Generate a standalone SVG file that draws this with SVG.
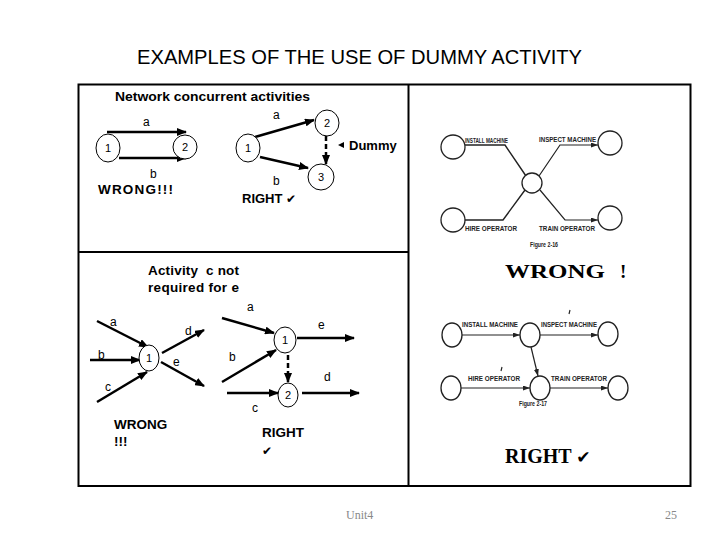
<svg xmlns="http://www.w3.org/2000/svg" width="720" height="540" viewBox="0 0 720 540">
<style>
.t{font-family:"Liberation Sans",Arial,sans-serif;fill:#000}
.b{font-weight:bold}
.lbl{font-family:"Liberation Sans",Arial,sans-serif;font-size:12px;fill:#000}
.num{font-family:"Liberation Sans",Arial,sans-serif;font-size:11px;fill:#000;text-anchor:middle}
.nd{fill:#fff;stroke:#000;stroke-width:1}
.ar{stroke:#000;stroke-width:2.5;fill:none;marker-end:url(#ah)}
.dm{stroke:#000;stroke-width:2.5;fill:none;stroke-dasharray:5,3;marker-end:url(#ah)}
.sc{stroke:#222;stroke-width:1.4;fill:none}
.scn{fill:#fff;stroke:#222;stroke-width:1.3}
.sa{stroke:#222;stroke-width:1.2;fill:none;marker-end:url(#sah)}
.st{font-family:"Liberation Sans Narrow","Liberation Sans",Arial,sans-serif;font-size:7px;font-weight:bold;fill:#222}
.sv{font-family:"Liberation Serif","Times New Roman",serif;font-weight:bold;fill:#000}
.ft{font-family:"Liberation Serif","Times New Roman",serif;font-size:12px;fill:#888}
</style>
<defs>
<marker id="ah" markerWidth="10" markerHeight="8" refX="9" refY="4" orient="auto" markerUnits="userSpaceOnUse">
<path d="M0,0 L10,4 L0,8 Z" fill="#000"/>
</marker>
<marker id="sah" markerWidth="7" markerHeight="5" refX="7" refY="2.5" orient="auto" markerUnits="userSpaceOnUse">
<path d="M0,0 L7,2.5 L0,5 Z" fill="#222"/>
</marker>
</defs>
<rect width="720" height="540" fill="#fff"/>
<text class="t" x="137" y="64" font-size="20" textLength="445" lengthAdjust="spacingAndGlyphs">EXAMPLES OF THE USE OF DUMMY ACTIVITY</text>
<g id="frame" fill="none" stroke="#000" stroke-width="2">
<rect x="78.5" y="84.5" width="612" height="401.5"/>
<line x1="408.5" y1="84.5" x2="408.5" y2="486"/>
<line x1="78.5" y1="252" x2="408.5" y2="252"/>
</g>
<g id="connectors">
<line class="ar" x1="107" y1="132" x2="186" y2="132"/>
<line class="ar" x1="119" y1="158" x2="186" y2="158"/>
<line class="ar" x1="255" y1="137" x2="314" y2="120"/>
<line class="ar" x1="260" y1="157" x2="308" y2="168"/>
<line class="dm" x1="326" y1="136" x2="326" y2="164"/>
<line class="ar" x1="97" y1="321" x2="148" y2="347"/>
<line class="ar" x1="90" y1="360" x2="140" y2="360"/>
<line class="ar" x1="97" y1="402" x2="147" y2="372"/>
<line class="ar" x1="162" y1="353" x2="204" y2="330"/>
<line class="ar" x1="161" y1="362" x2="204" y2="386"/>
<line class="ar" x1="222" y1="318" x2="274" y2="333"/>
<line class="ar" x1="222" y1="382" x2="276" y2="350"/>
<line class="ar" x1="297" y1="338" x2="354" y2="338"/>
<line class="dm" x1="288" y1="355" x2="288" y2="382"/>
<line class="ar" x1="227" y1="393" x2="278" y2="393"/>
<line class="ar" x1="302" y1="393" x2="359" y2="393"/>
<polyline class="sc" points="463,145 505,145 526,176"/>
<polyline class="sa" points="539,176 560,145 598,145"/>
<polyline class="sc" points="463,220 503,220 525,190"/>
<polyline class="sa" points="540,190 565,220 598,220"/>
<line class="sa" x1="462" y1="335" x2="520" y2="335"/>
<line class="sa" x1="540" y1="335" x2="598" y2="335"/>
<line class="sa" x1="531" y1="347" x2="538" y2="376"/>
<line class="sa" x1="461" y1="388" x2="530" y2="388"/>
<line class="sa" x1="550" y1="388" x2="608" y2="388"/>
</g>
<g id="wrong1-node1"><ellipse class="nd" cx="108" cy="148" rx="12" ry="14"/><text class="num" x="108" y="152">1</text></g>
<g id="wrong1-node2"><ellipse class="nd" cx="185" cy="147" rx="12" ry="12"/><text class="num" x="185" y="151">2</text></g>
<g id="right1-node1"><ellipse class="nd" cx="248" cy="148" rx="12" ry="14"/><text class="num" x="248" y="152">1</text></g>
<g id="right1-node2"><ellipse class="nd" cx="327" cy="123" rx="12" ry="13"/><text class="num" x="327" y="127">2</text></g>
<g id="right1-node3"><ellipse class="nd" cx="321" cy="177" rx="13" ry="13"/><text class="num" x="321" y="181">3</text></g>
<g id="wrong2-node1"><ellipse class="nd" cx="149" cy="358" rx="10" ry="13"/><text class="num" x="149" y="362">1</text></g>
<g id="right2-node1"><ellipse class="nd" cx="285" cy="340" rx="11" ry="13"/><text class="num" x="285" y="344">1</text></g>
<g id="right2-node2"><ellipse class="nd" cx="288" cy="395" rx="10" ry="12"/><text class="num" x="288" y="399">2</text></g>
<g id="fig16-nodes">
<circle class="scn" cx="453" cy="147" r="12"/>
<circle class="scn" cx="610" cy="143" r="12"/>
<circle class="scn" cx="532" cy="183" r="10"/>
<circle class="scn" cx="453" cy="220" r="12"/>
<circle class="scn" cx="610" cy="218" r="12"/>
</g>
<g id="fig17-nodes">
<ellipse class="scn" cx="452" cy="335" rx="10" ry="12"/>
<ellipse class="scn" cx="530" cy="335" rx="10" ry="12"/>
<ellipse class="scn" cx="608" cy="334" rx="10" ry="12"/>
<ellipse class="scn" cx="451" cy="388" rx="10" ry="12"/>
<ellipse class="scn" cx="540" cy="388" rx="10" ry="12"/>
<ellipse class="scn" cx="618" cy="388" rx="10" ry="12"/>
<line x1="570" y1="310" x2="569" y2="314" stroke="#222" stroke-width="1.2"/>
<line x1="502" y1="367" x2="501" y2="371" stroke="#222" stroke-width="1.2"/>
</g>
<g id="labels">
<text class="t b" x="115" y="101" font-size="13.5" textLength="195" lengthAdjust="spacingAndGlyphs">Network concurrent activities</text>
<text class="lbl" x="143" y="126">a</text>
<text class="lbl" x="150" y="178">b</text>
<text class="t b" x="98" y="194" font-size="13.5" textLength="75">WRONG!!!</text>
<text class="lbl" x="273" y="119">a</text>
<text class="lbl" x="273" y="185">b</text>
<path d="M338,145 L344,142 L344,148 Z" fill="#000"/>
<text class="t b" x="349" y="150" font-size="13">Dummy</text>
<text class="t b" x="242" y="203" font-size="13">RIGHT <tspan font-family="DejaVu Sans,sans-serif" font-size="12">✔</tspan></text>
<text class="t b" x="148" y="275" font-size="13.5" xml:space="preserve" textLength="91">Activity  c not</text>
<text class="t b" x="148" y="292" font-size="13.5" textLength="91">required for e</text>
<text class="lbl" x="110" y="326">a</text>
<text class="lbl" x="98" y="359">b</text>
<text class="lbl" x="105" y="391">c</text>
<text class="lbl" x="185" y="335">d</text>
<text class="lbl" x="173" y="366">e</text>
<text class="t b" x="114" y="429" font-size="13.5">WRONG</text>
<text class="t b" x="114" y="446" font-size="13.5">!!!</text>
<text class="lbl" x="247" y="311">a</text>
<text class="lbl" x="318" y="329">e</text>
<text class="lbl" x="229" y="361">b</text>
<text class="lbl" x="324" y="381">d</text>
<text class="lbl" x="252" y="412">c</text>
<text class="t b" x="262" y="437" font-size="13.5">RIGHT</text>
<text x="262" y="455" font-family="DejaVu Sans,sans-serif" font-size="12" fill="#000">✔</text>
<text class="st" x="465" y="143" textLength="43" lengthAdjust="spacingAndGlyphs">INSTALL MACHINE</text>
<text class="st" x="539" y="142" textLength="57" lengthAdjust="spacingAndGlyphs">INSPECT MACHINE</text>
<text class="st" x="465" y="231" textLength="52" lengthAdjust="spacingAndGlyphs">HIRE OPERATOR</text>
<text class="st" x="539" y="231" textLength="56" lengthAdjust="spacingAndGlyphs">TRAIN OPERATOR</text>
<text class="st" x="530" y="247" textLength="28" lengthAdjust="spacingAndGlyphs">Figure 2-16</text>
<text class="sv" x="505" y="278" font-size="19"><tspan textLength="100" lengthAdjust="spacingAndGlyphs">WRONG</tspan><tspan x="620">!</tspan></text>
<text class="st" x="462" y="327" textLength="56" lengthAdjust="spacingAndGlyphs">INSTALL MACHINE</text>
<text class="st" x="541" y="327" textLength="56" lengthAdjust="spacingAndGlyphs">INSPECT MACHINE</text>
<text class="st" x="468" y="381" textLength="52" lengthAdjust="spacingAndGlyphs">HIRE OPERATOR</text>
<text class="st" x="551" y="381" textLength="56" lengthAdjust="spacingAndGlyphs">TRAIN OPERATOR</text>
<text class="st" x="519" y="406" textLength="28" lengthAdjust="spacingAndGlyphs">Figure 2-17</text>
<text class="sv" x="505" y="463" font-size="20">RIGHT <tspan font-family="DejaVu Sans,sans-serif" font-size="17">✔</tspan></text>
<text class="ft" x="346" y="519">Unit4</text>
<text class="ft" x="665" y="519">25</text>
</g>
</svg>
